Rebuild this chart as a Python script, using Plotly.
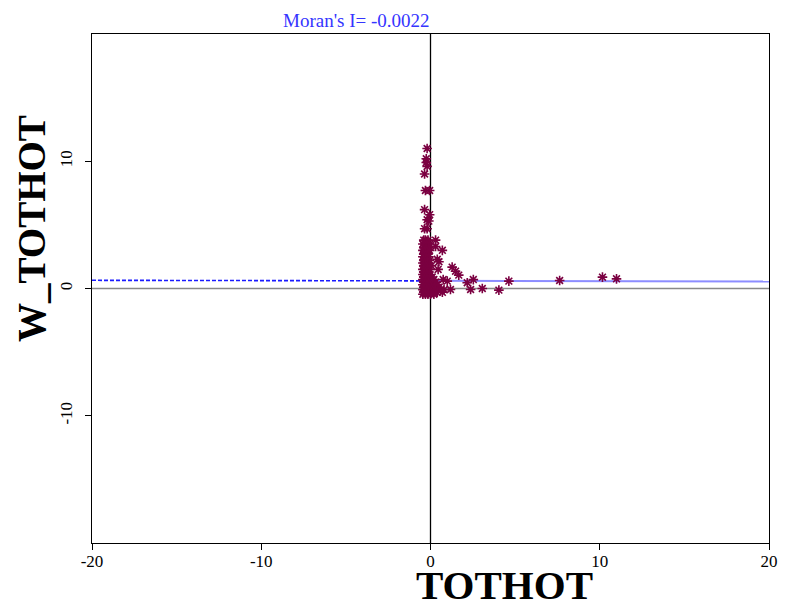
import plotly.graph_objects as go

# ---- data ----
x_outer = [0.3, 0.3, 0.7, 0.4, 0.45, 0.5, 1.28, 1.48, 1.67, 0.75, 0.99, 2.17, 2.53,
           1.18, 2.37, 3.06, 4.04, 4.63, 7.63, 10.16, 10.99]
y_outer = [3.8, 3.3, 3.0, 2.3, 1.5, 2.1, 1.68, 1.36, 1.05, 0.7, 0.58, 0.45, 0.7,
           -0.08, -0.08, 0.0, -0.13, 0.58, 0.63, 0.89, 0.76]

x_column = [-0.2, -0.25, -0.25, -0.2, -0.35, -0.3, -0.05, -0.35, -0.05, -0.2, -0.1, -0.35, -0.2]
y_column = [11.0, 10.2, 9.9, 9.6, 9.0, 7.7, 7.7, 6.2, 5.8, 5.4, 5.3, 4.7, 4.7]

x_dense = [-0.4, -0.3, -0.15,
           -0.45, -0.3, -0.2, -0.05,
           -0.4, -0.25, -0.1,
           -0.45, -0.35, -0.2, -0.05,
           -0.4, -0.3, -0.15,
           -0.45, -0.35, -0.25, -0.1,
           -0.4, -0.3, -0.2, -0.05,
           -0.45, -0.35, -0.25, -0.15,
           -0.4, -0.3, -0.2, -0.1, 0.05,
           -0.45, -0.35, -0.25, -0.15, -0.05,
           -0.4, -0.3, -0.2, -0.1,
           -0.45, -0.35, -0.25, -0.15, -0.05,
           -0.4, -0.3, -0.2, -0.1, 0.1,
           -0.45, -0.35, -0.25, -0.15, -0.05, 0.2,
           -0.4, -0.3, -0.2, -0.1, 0.05, 0.3,
           -0.45, -0.35, -0.25, -0.15, -0.05, 0.15, 0.4,
           -0.4, -0.3, -0.2, -0.1, 0.05, 0.25, 0.5,
           -0.45, -0.35, -0.25, -0.15, -0.05, 0.1, 0.3, 0.6, 0.8,
           -0.4, -0.3, -0.2, -0.1, 0.05, 0.2, 0.4, 0.7,
           -0.45, -0.3, -0.15, 0.0, 0.2]
y_dense = [3.8, 3.8, 3.8,
           3.5, 3.5, 3.5, 3.5,
           3.2, 3.2, 3.2,
           3.0, 3.0, 3.0, 3.0,
           2.7, 2.7, 2.7,
           2.5, 2.5, 2.5, 2.5,
           2.2, 2.2, 2.2, 2.2,
           2.0, 2.0, 2.0, 2.0,
           1.8, 1.8, 1.8, 1.8, 1.8,
           1.5, 1.5, 1.5, 1.5, 1.5,
           1.3, 1.3, 1.3, 1.3,
           1.1, 1.1, 1.1, 1.1, 1.1,
           0.9, 0.9, 0.9, 0.9, 0.9,
           0.7, 0.7, 0.7, 0.7, 0.7, 0.7,
           0.5, 0.5, 0.5, 0.5, 0.5, 0.5,
           0.3, 0.3, 0.3, 0.3, 0.3, 0.3, 0.3,
           0.1, 0.1, 0.1, 0.1, 0.1, 0.1, 0.1,
           -0.1, -0.1, -0.1, -0.1, -0.1, -0.1, -0.1, -0.1, -0.1,
           -0.3, -0.3, -0.3, -0.3, -0.3, -0.3, -0.3, -0.3,
           -0.45, -0.45, -0.45, -0.45, -0.45]

x_vals = x_dense + x_column + x_outer
y_vals = y_dense + y_column + y_outer

morans_i = -0.0022
intercept = 0.6
axis_range = [-20, 20]
x_ticks = [-20, -10, 0, 10, 20]
x_tick_text = ["-20", "-10", "0", "10", "20"]
y_ticks = [-10, 0, 10]
y_tick_text = ["-10", "0", "10"]

title_text = "Moran's I= -0.0022"
x_label = "TOTHOT"
y_label = "W_TOTHOT"

SERIF = "Liberation Serif, Times New Roman, serif"
PT_COLOR = "#7b0041"

fig = go.Figure()

# zero reference lines
fig.add_trace(go.Scatter(x=axis_range, y=[0, 0], mode="lines",
                         line=dict(color="#888888", width=1.6), hoverinfo="skip", showlegend=False))
fig.add_trace(go.Scatter(x=[0, 0], y=axis_range, mode="lines",
                         line=dict(color="black", width=1.3), hoverinfo="skip", showlegend=False))

# regression line: dashed on the left half, solid light on the right half
xl = [axis_range[0], 0]
xr = [0, axis_range[1]]
fig.add_trace(go.Scatter(x=xl, y=[intercept + morans_i * v for v in xl], mode="lines",
                         line=dict(color="#1a1aff", width=1.6, dash="4px,2px"),
                         hoverinfo="skip", showlegend=False))
fig.add_trace(go.Scatter(x=xr, y=[intercept + morans_i * v for v in xr], mode="lines",
                         line=dict(color="#8c8cff", width=2),
                         hoverinfo="skip", showlegend=False))

# points
fig.add_trace(go.Scatter(x=x_vals, y=y_vals, mode="markers",
                         marker=dict(symbol="asterisk-open", size=8,
                                     line=dict(color=PT_COLOR, width=1.6), color=PT_COLOR),
                         showlegend=False))

axis_common = dict(range=axis_range, showgrid=False, zeroline=False, showline=True,
                   linecolor="black", linewidth=1.3, mirror=True, ticks="outside",
                   ticklen=6, tickwidth=1.2, tickcolor="black", automargin=False,
                   tickfont=dict(family=SERIF, size=17, color="black"))

fig.update_layout(
    width=770, height=591,
    margin=dict(l=84, r=9, t=26, b=56),
    plot_bgcolor="white", paper_bgcolor="white",
    xaxis=dict(tickvals=x_ticks, ticktext=x_tick_text, ticklabelstandoff=-4, **axis_common),
    yaxis=dict(tickvals=y_ticks, ticktext=y_tick_text, tickangle=-90,
               ticklabelstandoff=6, **axis_common),
    annotations=[
        dict(text=title_text, xref="paper", yref="paper", x=0.391, y=1.0275,
             xanchor="center", yanchor="middle", showarrow=False,
             font=dict(family=SERIF, size=19, color="#3535ff")),
        dict(text="<b>" + x_label + "</b>", xref="paper", yref="paper", x=0.609, y=-0.083,
             xanchor="center", yanchor="middle", showarrow=False,
             font=dict(family=SERIF, size=41, color="black")),
        dict(text="<b>" + y_label + "</b>", xref="paper", yref="paper", x=-0.0886, y=0.617,
             xanchor="center", yanchor="middle", showarrow=False, textangle=-90,
             font=dict(family=SERIF, size=39, color="black")),
    ],
)

fig.write_html("out.html")
